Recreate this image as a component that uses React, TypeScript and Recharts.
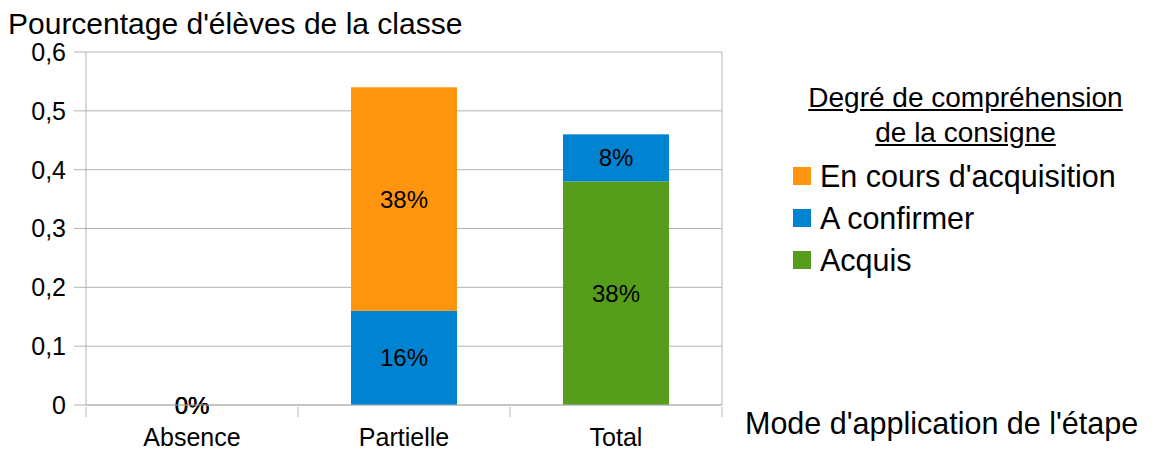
import { BarChart, Bar, XAxis, YAxis, CartesianGrid, Legend } from 'recharts';

const categories = ['Absence', 'Partielle', 'Total'];
const acquis = [0, null, 0.38];
const aConfirmer = [0, 0.16, 0.08];
const enCours = [0, 0.38, null];
const yTicks = [0, 0.1, 0.2, 0.3, 0.4, 0.5, 0.6];
const legendOrder = ["En cours d'acquisition", 'A confirmer', 'Acquis'];

const FONT = '"Liberation Sans", Arial, sans-serif';
const GRID = '#b3b3b3';

const data = categories.map((name, i) => ({
  name,
  acquis: acquis[i],
  aConfirmer: aConfirmer[i],
  enCours: enCours[i],
}));

const pct = (v: any) => (v == null ? '' : `${Math.round(Number(v) * 100)}%`);

// bar rectangle with its value label drawn in the middle (also for zero-height bars)
const makeShape = (key: string) => (props: any) => {
  const { x, y, width, height, fill, payload } = props;
  const v = payload ? payload[key] : null;
  if (v == null) return <g />;
  return (
    <g>
      {height > 0 && <rect x={x} y={y} width={width} height={height} fill={fill} />}
      <text
        x={x + width / 2}
        y={y + height / 2}
        dy="0.355em"
        textAnchor="middle"
        fontSize={24}
        fontFamily={FONT}
        fill="#000"
      >
        {pct(v)}
      </text>
    </g>
  );
};

const XTick = (props: any) => {
  const { x, y, payload, index, visibleTicksCount } = props;
  const half = payload.offset ?? 106;
  return (
    <g>
      <line x1={x - half} x2={x - half} y1={y} y2={y + 10} stroke={GRID} />
      {index === visibleTicksCount - 1 && (
        <line x1={x + half} x2={x + half} y1={y} y2={y + 10} stroke={GRID} />
      )}
      <text x={x} y={y + 39} textAnchor="middle" fontSize={25} fontFamily={FONT} fill="#000">
        {payload.value}
      </text>
    </g>
  );
};

const YTitle = () => (
  <text x={8} y={34} fontSize={30} fontFamily={FONT} fill="#000">
    Pourcentage d'élèves de la classe
  </text>
);

const XTitle = (props: any) => {
  const { viewBox } = props;
  return (
    <text x={viewBox.x + viewBox.width + 23} y={viewBox.y + 29} fontSize={30.5} fontFamily={FONT} fill="#000">
      Mode d'application de l'étape
    </text>
  );
};

const LegendBox = (props: any) => {
  const items = [...(props.payload || [])].sort(
    (a: any, b: any) => legendOrder.indexOf(a.value) - legendOrder.indexOf(b.value)
  );
  return (
    <div style={{ fontFamily: FONT, color: '#000' }}>
      <div style={{ textAlign: 'center', fontSize: 28, lineHeight: '35px', textDecoration: 'underline' }}>
        Degré de compréhension
        <br />
        de la consigne
      </div>
      <div style={{ paddingLeft: 33, marginTop: 5 }}>
        {items.map((it: any) => (
          <div key={it.value} style={{ display: 'flex', alignItems: 'center', height: 42 }}>
            <span style={{ width: 18, height: 18, background: it.color, marginRight: 9, display: 'inline-block' }} />
            <span style={{ fontSize: 30.5, lineHeight: '42px' }}>{it.value}</span>
          </div>
        ))}
      </div>
    </div>
  );
};

export default function App() {
  return (
    <div style={{ position: 'absolute', left: 0, top: 0, width: 1160, height: 450, background: '#fff' }}>
      <BarChart
        width={1160}
        height={450}
        data={data}
        margin={{ top: 52, right: 438, bottom: 0, left: 0 }}
        barCategoryGap="25%"
      >
        <CartesianGrid
          stroke={GRID}
          vertical
          verticalCoordinatesGenerator={({ offset }: any) => [offset.left + offset.width]}
        />
        <XAxis
          dataKey="name"
          interval={0}
          height={45}
          tickLine={false}
          tickSize={0}
          axisLine={{ stroke: GRID }}
          tick={<XTick />}
          label={<XTitle />}
        />
        <YAxis
          width={86}
          domain={[0, 0.6]}
          ticks={yTicks}
          interval={0}
          tickSize={12}
          tickMargin={8}
          axisLine={{ stroke: GRID }}
          tickLine={{ stroke: GRID }}
          tick={{ fontSize: 25, fontFamily: FONT, fill: '#000' }}
          tickFormatter={(v: number) => String(v).replace('.', ',')}
          label={<YTitle />}
        />
        <Legend
          layout="horizontal"
          align="center"
          verticalAlign="middle"
          wrapperStyle={{ left: 760, top: 80, width: 411 }}
          content={<LegendBox />}
        />
        <Bar dataKey="acquis" name="Acquis" stackId="a" fill="#579d1c" isAnimationActive={false} shape={makeShape('acquis')} />
        <Bar dataKey="aConfirmer" name="A confirmer" stackId="a" fill="#0084d1" isAnimationActive={false} shape={makeShape('aConfirmer')} />
        <Bar dataKey="enCours" name="En cours d'acquisition" stackId="a" fill="#ff950e" isAnimationActive={false} shape={makeShape('enCours')} />
      </BarChart>
    </div>
  );
}
